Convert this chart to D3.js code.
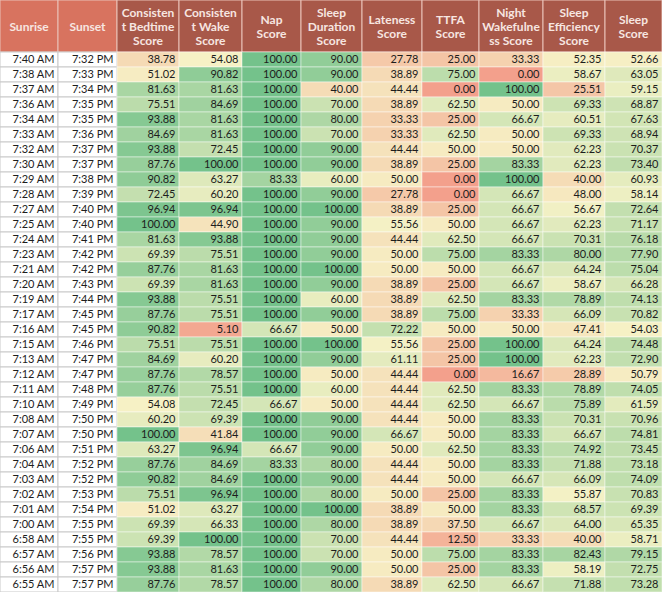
<!DOCTYPE html>
<html>
<head>
<meta charset="utf-8">
<script src="https://cdn.jsdelivr.net/npm/d3@7/dist/d3.min.js"></script>
<style>
  html, body { margin: 0; padding: 0; background: #ffffff; }
  svg { display: block; }
</style>
</head>
<body>
<svg id="chart" width="662" height="592"></svg>
<script>
// ---- data ----
const sunrise = ["7:40 AM","7:38 AM","7:37 AM","7:36 AM","7:34 AM","7:33 AM","7:32 AM","7:30 AM","7:29 AM","7:28 AM",
  "7:27 AM","7:25 AM","7:24 AM","7:23 AM","7:21 AM","7:20 AM","7:19 AM","7:17 AM","7:16 AM","7:15 AM",
  "7:13 AM","7:12 AM","7:11 AM","7:10 AM","7:08 AM","7:07 AM","7:06 AM","7:04 AM","7:03 AM","7:02 AM",
  "7:01 AM","7:00 AM","6:58 AM","6:57 AM","6:56 AM","6:55 AM"];
const sunset = ["7:32 PM","7:33 PM","7:34 PM","7:35 PM","7:35 PM","7:36 PM","7:37 PM","7:37 PM","7:38 PM","7:39 PM",
  "7:40 PM","7:40 PM","7:41 PM","7:42 PM","7:42 PM","7:43 PM","7:44 PM","7:45 PM","7:45 PM","7:46 PM",
  "7:47 PM","7:47 PM","7:48 PM","7:49 PM","7:50 PM","7:50 PM","7:51 PM","7:52 PM","7:52 PM","7:53 PM",
  "7:54 PM","7:55 PM","7:55 PM","7:56 PM","7:57 PM","7:57 PM"];
const bedtime = [38.78,51.02,81.63,75.51,93.88,84.69,93.88,87.76,90.82,72.45,
  96.94,100.00,81.63,69.39,87.76,69.39,93.88,87.76,90.82,75.51,
  84.69,87.76,87.76,54.08,60.20,100.00,63.27,87.76,90.82,75.51,
  51.02,69.39,69.39,93.88,93.88,87.76];
const wake = [54.08,90.82,81.63,84.69,81.63,81.63,72.45,100.00,63.27,60.20,
  96.94,44.90,93.88,75.51,81.63,81.63,75.51,75.51,5.10,75.51,
  60.20,78.57,75.51,72.45,69.39,41.84,96.94,84.69,84.69,96.94,
  63.27,66.33,100.00,78.57,81.63,78.57];
const nap = [100,100,100,100,100,100,100,100,83.33,100,
  100,100,100,100,100,100,100,100,66.67,100,
  100,100,100,66.67,100,100,66.67,83.33,100,100,
  100,100,100,100,100,100];
const duration = [90,90,40,70,80,70,90,90,60,90,
  100,90,90,90,100,90,60,90,50,100,
  90,50,60,50,90,90,90,80,90,80,
  100,80,70,70,90,80];
const lateness = [27.78,38.89,44.44,38.89,33.33,33.33,44.44,38.89,50.00,27.78,
  38.89,55.56,44.44,50.00,50.00,38.89,38.89,38.89,72.22,55.56,
  61.11,44.44,44.44,44.44,44.44,66.67,50.00,44.44,44.44,50.00,
  38.89,38.89,44.44,50.00,50.00,38.89];
const ttfa = [25,75,0,62.5,25,62.5,50,25,0,0,
  25,50,62.5,75,50,25,62.5,75,50,25,
  25,0,62.5,62.5,50,50,62.5,50,50,25,
  50,37.5,12.5,75,25,62.5];
const night = [33.33,0,100,50,66.67,50,50,83.33,100,66.67,
  66.67,66.67,66.67,83.33,66.67,66.67,83.33,33.33,50,100,
  100,16.67,83.33,66.67,83.33,83.33,83.33,83.33,66.67,83.33,
  83.33,66.67,33.33,83.33,83.33,66.67];
const efficiency = [52.35,58.67,25.51,69.33,60.51,69.33,62.23,62.23,40.00,48.00,
  56.67,62.23,70.31,80.00,64.24,58.67,78.89,66.09,47.41,64.24,
  62.23,28.89,78.89,75.89,70.31,66.67,74.92,71.88,66.09,55.87,
  68.57,64.00,40.00,82.43,58.19,71.88];
const sleepScore = [52.66,63.05,59.15,68.87,67.63,68.94,70.37,73.40,60.93,58.14,
  72.64,71.17,76.18,77.90,75.04,66.28,74.13,70.82,54.03,74.48,
  72.90,50.79,74.05,61.59,70.96,74.81,73.45,73.18,74.09,70.83,
  69.39,65.35,58.71,79.15,72.75,73.28];
const headers = [
  ["Sunrise"], ["Sunset"], ["Consisten","t Bedtime","Score"], ["Consisten","t Wake","Score"],
  ["Nap","Score"], ["Sleep","Duration","Score"], ["Lateness","Score"], ["TTFA","Score"],
  ["Night","Wakefulne","ss Score"], ["Sleep","Efficiency","Score"], ["Sleep","Score"]
];

// ---- layout ----
const W = 662, H = 592, headerH = 52;
const colWidths = [58, 59, 62, 63, 59, 61, 60, 57, 64, 62, 57];
const columns = [sunrise, sunset, bedtime, wake, nap, duration, lateness, ttfa, night, efficiency, sleepScore];
const colIdx = d3.range(columns.length);
const xLeft = d3.scaleOrdinal().domain(colIdx).range(d3.cumsum([0, ...colWidths]).slice(0, -1));
const colW = d3.scaleOrdinal().domain(colIdx).range(colWidths);
const y = d3.scaleBand().domain(d3.range(sunrise.length)).range([headerH, H]);
const color = d3.scaleLinear().domain([0, 55, 100])
  .range(["#f3a08c", "#f6f2c6", "#74c28b"]).interpolate(d3.interpolateRgb);

const svg = d3.select("#chart");
const font = "Lato, 'Open Sans', sans-serif";

// header
const hg = svg.append("g");
hg.selectAll("rect").data(colIdx).join("rect")
  .attr("x", d => xLeft(d)).attr("y", 0)
  .attr("width", d => colW(d)).attr("height", headerH)
  .attr("fill", d => d < 2 ? "#d8735f" : "#a85849")
  .attr("stroke", "#e9c2b8").attr("stroke-width", 1);
hg.selectAll("text").data(colIdx).join("text")
  .attr("font-family", font).attr("font-weight", "bold").attr("font-size", 12)
  .attr("fill", "#f7e6e1").attr("text-anchor", "middle")
  .each(function(d) {
    const lines = headers[d];
    const lh = 14;
    const cy = headerH / 2 + 1 - (lines.length - 1) * lh / 2;
    d3.select(this).selectAll("tspan").data(lines).join("tspan")
      .attr("x", xLeft(d) + colW(d) / 2)
      .attr("y", (l, i) => cy + i * lh)
      .attr("dy", "0.35em")
      .text(l => l);
  });

// body cells
const cells = [];
columns.forEach((col, c) => col.forEach((v, r) => cells.push({ c, r, v })));
const bg = svg.append("g");
bg.selectAll("rect").data(cells).join("rect")
  .attr("x", d => xLeft(d.c)).attr("y", d => y(d.r))
  .attr("width", d => colW(d.c)).attr("height", y.bandwidth())
  .attr("fill", d => d.c < 2 ? "#ffffff" : color(d.v))
  .attr("stroke", d => d.c < 2 ? "#c9c9c9" : "rgba(255,255,255,0.45)")
  .attr("stroke-width", 1);
bg.selectAll("text").data(cells).join("text")
  .attr("x", d => xLeft(d.c) + colW(d.c) - 3.5)
  .attr("y", d => y(d.r) + y.bandwidth() / 2)
  .attr("dy", "0.36em")
  .attr("text-anchor", "end")
  .attr("font-family", font).attr("font-size", 11)
  .attr("fill", "#1d1d1d")
  .text(d => d.c < 2 ? d.v : d3.format(".2f")(d.v));
</script>
</body>
</html>
